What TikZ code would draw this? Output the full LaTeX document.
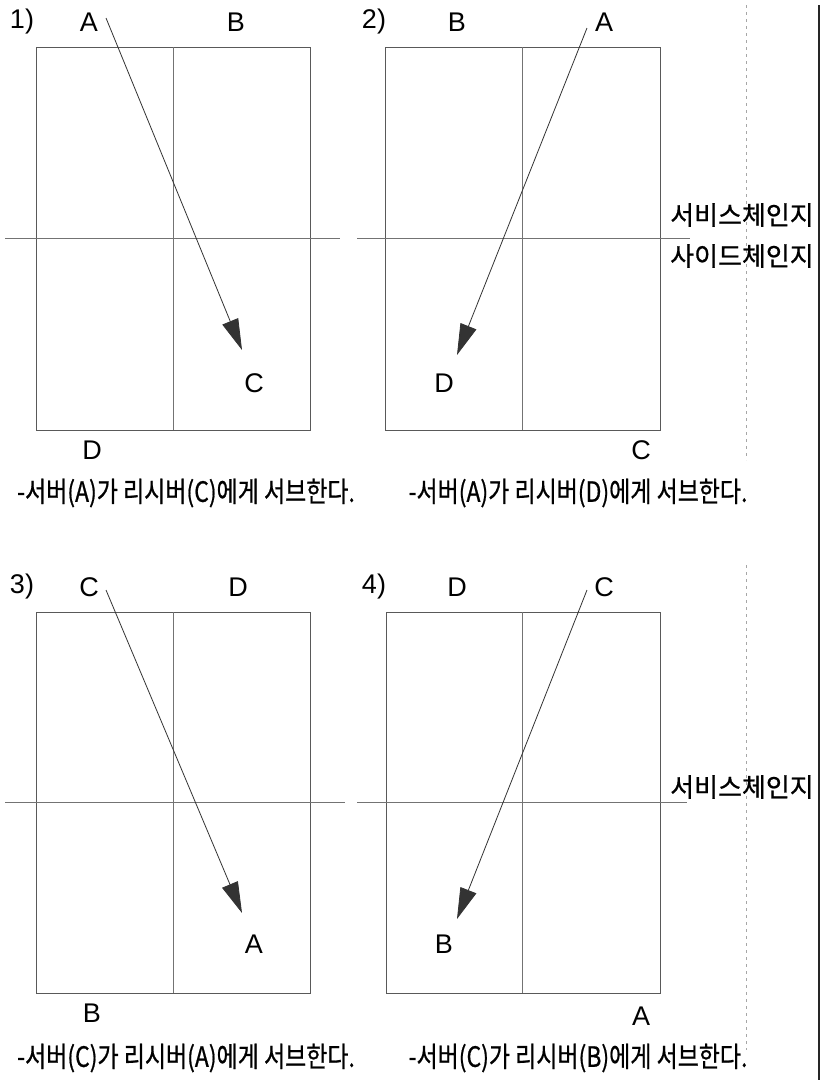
\documentclass[tikz,border=0pt]{standalone}
\usepackage{fontspec}
\setmainfont{Liberation Sans}
\newfontfamily\kr[FakeBold=0.8]{Noto Sans CJK KR}
\usetikzlibrary{arrows.meta}
\tikzset{
  panel/.style={draw=black!65, line width=0.9pt},
  gridline/.style={draw=black!55, line width=0.8pt},
  lbl/.style={font=\fontsize{27}{27}\selectfont, inner sep=0pt, anchor=center},
  captxt/.style={font=\kr\fontsize{28}{28}\selectfont, inner sep=0pt, xscale=0.82, transform shape},
  sidetxt/.style={font=\kr\fontsize{26}{26}\selectfont, inner sep=0pt},
  serve/.style={draw=black!80, line width=0.8pt, -{Triangle[length=31pt,width=17pt]}},
}
\begin{document}
\begin{tikzpicture}[x=1pt,y=-1pt]
\useasboundingbox[fill=white] (0,0) rectangle (822,1080);
% ---------- panel 1 ----------
\draw[panel] (36,47) rectangle (310,430);
\draw[gridline] (173,47) -- (173,430);
\draw[gridline] (5,238) -- (340,238);
\node[lbl] (n1) at (22,22) {1)};
\node[lbl] (a1) at (89,22) {A};
\node[lbl] (b1) at (236,22) {B};
\node[lbl] (c1) at (254,383) {C};
\node[lbl] (d1) at (92,450) {D};
\coordinate (s1) at (106,18);
\coordinate (t1) at (242,350);
\draw[serve] (s1) -- (t1);
\node[captxt] (cap1) at (186,493) {-서버(A)가 리시버(C)에게 서브한다.};
% ---------- panel 2 ----------
\draw[panel] (385,47) rectangle (660,430);
\draw[gridline] (522,47) -- (522,430);
\draw[gridline] (357,238) -- (690,238);
\node[lbl] (n2) at (374,22) {2)};
\node[lbl] (b2) at (457,22) {B};
\node[lbl] (a2) at (604,22) {A};
\node[lbl] (d2) at (444,383) {D};
\node[lbl] (c2) at (641,450) {C};
\coordinate (s2) at (587,28);
\coordinate (t2) at (457,355);
\draw[serve] (s2) -- (t2);
\node[captxt] (cap2) at (578,493) {-서버(A)가 리시버(D)에게 서브한다.};
% ---------- panel 3 ----------
\draw[panel] (36,612) rectangle (310,993);
\draw[gridline] (173,612) -- (173,993);
\draw[gridline] (5,802) -- (345,802);
\node[lbl] (n3) at (22,587) {3)};
\node[lbl] (c3) at (89,587) {C};
\node[lbl] (d3) at (238,587) {D};
\node[lbl] (a3) at (254,944) {A};
\node[lbl] (b3) at (92,1013) {B};
\coordinate (s3) at (106,590);
\coordinate (t3) at (242,913);
\draw[serve] (s3) -- (t3);
\node[captxt] (cap3) at (186,1058) {-서버(C)가 리시버(A)에게 서브한다.};
% ---------- panel 4 ----------
\draw[panel] (386,612) rectangle (660,993);
\draw[gridline] (522,612) -- (522,993);
\draw[gridline] (357,802) -- (687,802);
\node[lbl] (n4) at (374,587) {4)};
\node[lbl] (d4) at (457,587) {D};
\node[lbl] (c4) at (604,587) {C};
\node[lbl] (b4) at (444,944) {B};
\node[lbl] (a4) at (641,1016) {A};
\coordinate (s4) at (587,590);
\coordinate (t4) at (457,919);
\draw[serve] (s4) -- (t4);
\node[captxt] (cap4) at (578,1058) {-서버(C)가 리시버(B)에게 서브한다.};
% ---------- right side ----------
\draw[black!35, line width=1pt, dash pattern=on 3pt off 4pt] (746,5) -- (746,460);
\draw[black!35, line width=1pt, dash pattern=on 3pt off 4pt] (746,565) -- (746,1050);
\draw[black!85, line width=2pt] (819,5) -- (819,1080);
\node[sidetxt] (sv1) at (742,215) {서비스체인지};
\node[sidetxt] (sd1) at (742,256) {사이드체인지};
\node[sidetxt] (sv2) at (742,787) {서비스체인지};
\end{tikzpicture}
\end{document}
